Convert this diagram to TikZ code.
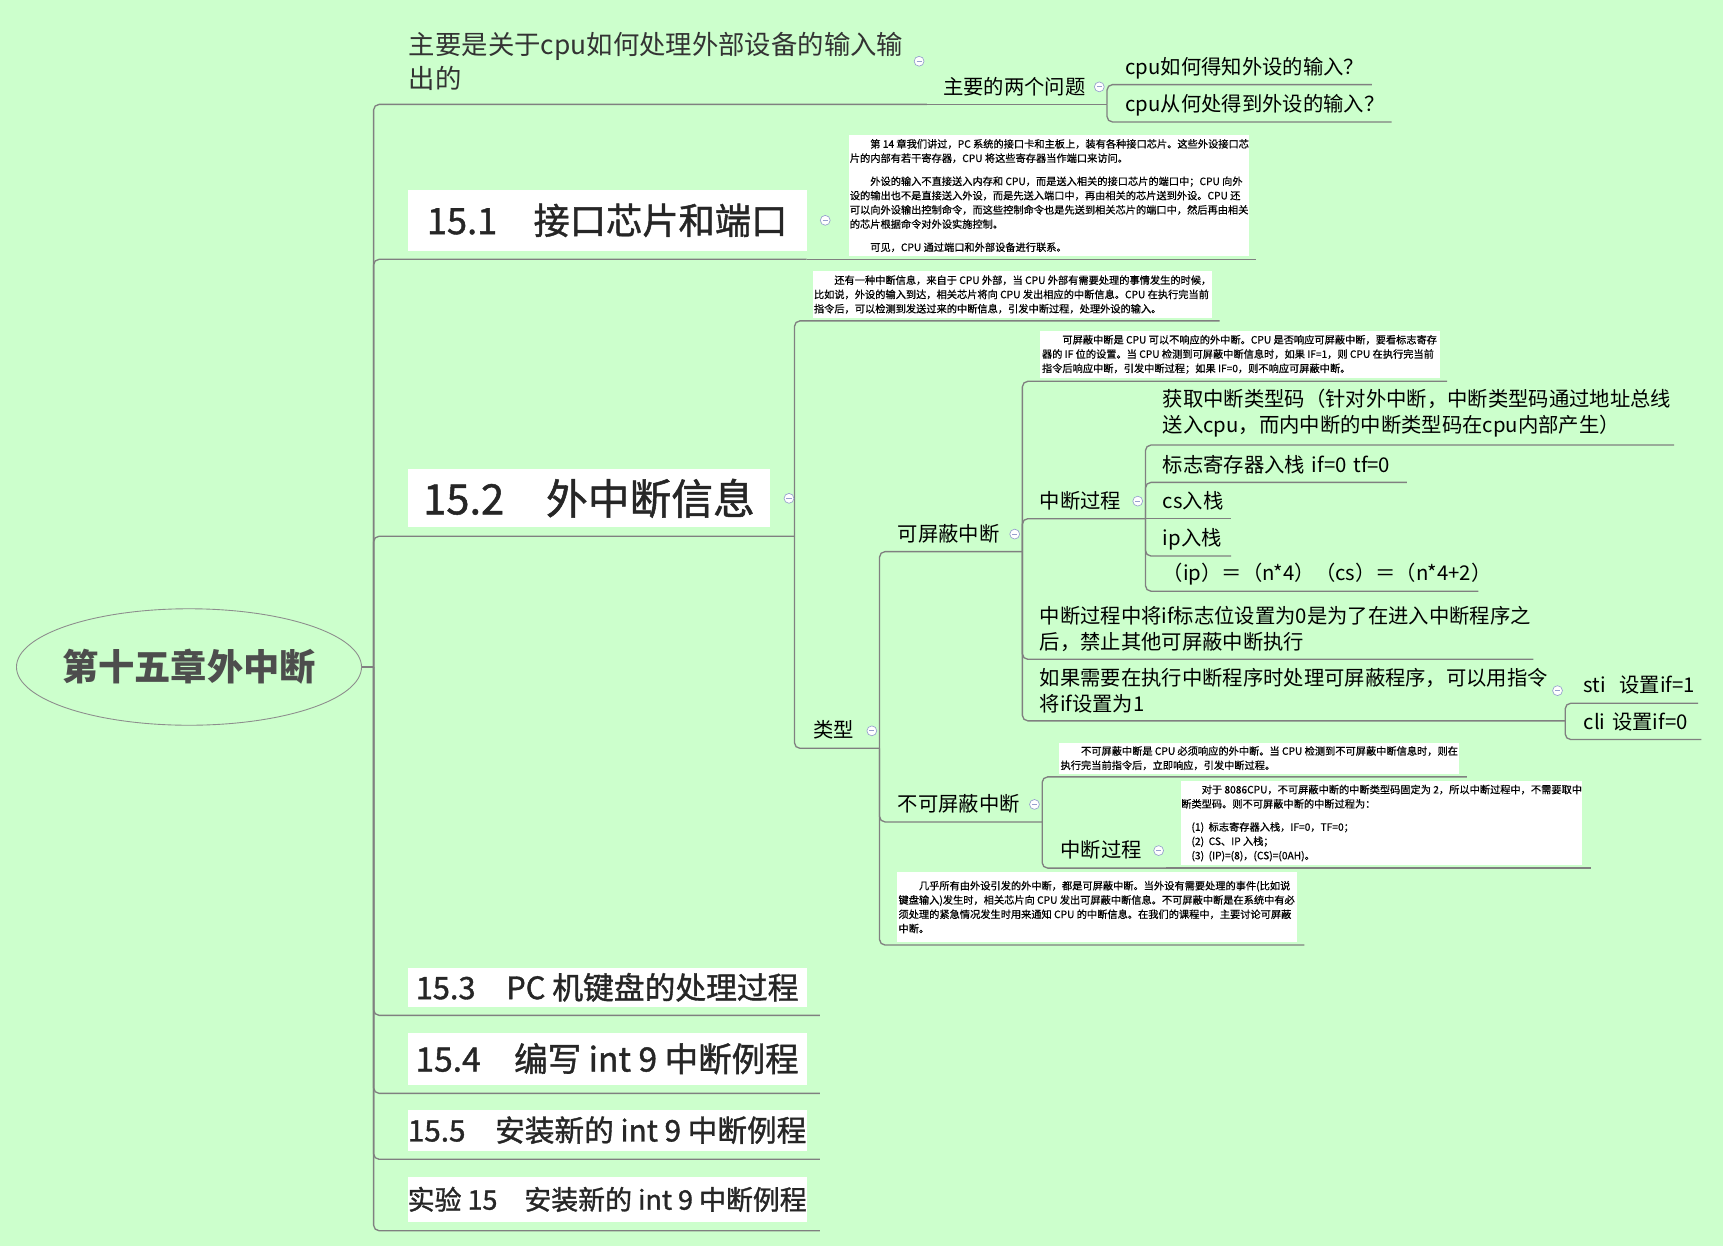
\documentclass[tikz,border=0pt]{standalone}
\usepackage{fontspec}
\newfontfamily\cjk{Noto Sans CJK SC}
\newfontfamily\cjkhead{Noto Sans CJK SC}[FakeBold=1.2]
\newfontfamily\cjkscan{Noto Sans CJK SC}[FakeBold=0.6]
\usetikzlibrary{shapes.geometric}

\definecolor{bg}{RGB}{204,255,204}
\definecolor{linegray}{RGB}{128,128,128}
\definecolor{rootgray}{RGB}{77,77,77}
\definecolor{foldc}{RGB}{150,160,205}

\tikzset{
	conn/.style={draw=linegray, line width=1.2pt, rounded corners=5pt},
	topic/.style={anchor=south west, inner xsep=0pt, inner ysep=6.7pt, text depth=2.5pt, align=left, text=black, font=\cjk\fontsize{18.5}{24}\selectfont},
	head/.style={anchor=south west, fill=white, inner sep=0pt, outer xsep=0pt, outer ysep=8pt, minimum width=363pt, text=black!85},
	shot/.style={anchor=south west, fill=white, inner sep=0pt, outer xsep=0pt, outer ysep=3pt, minimum width=364pt, align=left, text=black, font=\cjkscan\fontsize{9.3}{13}\selectfont},
	root/.style={ellipse, draw=linegray!90, line width=0.8pt, inner xsep=-12pt, minimum width=314pt, minimum height=106pt, text=rootgray, font=\cjk\bfseries\fontsize{33}{40}\selectfont},
	fold/.style={circle, draw=foldc, fill=white, line width=0.6pt, minimum size=9pt, inner sep=0pt,
		path picture={\draw[foldc, line width=0.8pt] ([xshift=2.2pt]path picture bounding box.west) -- ([xshift=-2.2pt]path picture bounding box.east);}}
}

\begin{document}
\begin{tikzpicture}[x=1pt, y=-1pt]
		\fill[bg] (0,0) rectangle (1568,1134);
		\useasboundingbox (0,0) rectangle (1568,1134);
		
		% centre
		\node[root] (root) at (172,607) {第十五章外中断};
		\coordinate (hub) at (340,607);
		
		% main branches
		\node[topic, text width=471pt, text depth={}, inner ysep=12.5pt, text=black!80, font=\cjk\fontsize{24}{31}\selectfont] (main1) at (372,95) {主要是关于cpu如何处理外部设备的输入输\\出的};
		\node[topic, text width=149pt] (two) at (858,95) {主要的两个问题};
		\node[topic, text width=224pt] (q1) at (1024,77) {cpu如何得知外设的输入？};
		\node[topic, text width=242pt] (q2) at (1024,111) {cpu从何处得到外设的输入？};
		
		\node[head, minimum height=55pt, font=\cjkhead\fontsize{33}{40}\selectfont] (s1) at (371,236) {15.1\quad 接口芯片和端口};
		\node[shot, minimum height=110pt] (x151) at (773,236) {　　第 14 章我们讲过，PC 系统的接口卡和主板上，装有各种接口芯片。这些外设接口芯\\片的内部有若干寄存器，CPU 将这些寄存器当作端口来访问。\\[8pt]　　外设的输入不直接送入内存和 CPU，而是送入相关的接口芯片的端口中；CPU 向外\\设的输出也不是直接送入外设，而是先送入端口中，再由相关的芯片送到外设。CPU 还\\可以向外设输出控制命令，而这些控制命令也是先送到相关芯片的端口中，然后再由相关\\的芯片根据命令对外设实施控制。\\[8pt]　　可见，CPU 通过端口和外部设备进行联系。};
		
		\node[head, minimum width=330pt, minimum height=53pt, font=\cjkhead\fontsize{38}{44}\selectfont] (s2) at (371,488) {15.2\quad 外中断信息};
		\coordinate (s2j) at ([xshift=22pt]s2.south east);
		\node[shot, minimum width=363pt, minimum height=42pt] (x152) at (740,292) {　　还有一种中断信息，来自于 CPU 外部，当 CPU 外部有需要处理的事情发生的时候，\\比如说，外设的输入到达，相关芯片将向 CPU 发出相应的中断信息。CPU 在执行完当前\\指令后，可以检测到发送过来的中断信息，引发中断过程，处理外设的输入。};
		\node[topic, text width=60pt] (type) at (740,681) {类型};
		
		% maskable
		\node[topic, text width=113pt] (kp) at (817,502) {可屏蔽中断};
		\node[shot, minimum height=43pt] (xkp) at (946,347) {　　可屏蔽中断是 CPU 可以不响应的外中断。CPU 是否响应可屏蔽中断，要看标志寄存\\器的 IF 位的设置。当 CPU 检测到可屏蔽中断信息时，如果 IF=1，则 CPU 在执行完当前\\指令后响应中断，引发中断过程；如果 IF=0，则不响应可屏蔽中断。};
		\node[topic, text width=96pt] (kproc) at (946,472) {中断过程};
		\node[topic, text width=465pt, text depth={}] (k1) at (1058,405) {获取中断类型码（针对外中断，中断类型码通过地址总线\\送入cpu，而内中断的中断类型码在cpu内部产生）};
		\node[topic, text width=222pt] (k2) at (1058,439) {标志寄存器入栈~if=0~tf=0};
		\node[topic, text width=62pt] (k3) at (1058,472) {cs入栈};
		\node[topic, text width=62pt] (k4) at (1058,506) {ip入栈};
		\node[topic, text width=287pt] (k5) at (1058,538) {（ip）＝（n*4）（cs）＝（n*4+2）};
		\node[topic, text width=449pt, text depth={}] (kwhy) at (946,600) {中断过程中将if标志位设置为0是为了在进入中断程序之\\后，禁止其他可屏蔽中断执行};
		\node[topic, text width=478pt, text depth={}] (kif) at (946,656) {如果需要在执行中断程序时处理可屏蔽程序，可以用指令\\将if设置为1};
		\node[topic, text width=104pt] (sti) at (1441,640) {sti~~设置if=1};
		\node[topic, text width=107pt] (cli) at (1441,673) {cli~设置if=0};
		
		% non maskable
		\node[topic, text width=131pt] (nk) at (817,748) {不可屏蔽中断};
		\node[shot, minimum height=28pt] (xnk) at (964,707) {　　不可屏蔽中断是 CPU 必须响应的外中断。当 CPU 检测到不可屏蔽中断信息时，则在\\执行完当前指令后，立即响应，引发中断过程。};
		\node[topic, text width=96pt] (nproc) at (965,790) {中断过程};
		\node[shot, minimum height=76pt] (xnp) at (1075,790) {　　对于 8086CPU，不可屏蔽中断的中断类型码固定为 2，所以中断过程中，不需要取中\\断类型码。则不可屏蔽中断的中断过程为：\\[8pt]　(1)~~标志寄存器入栈，IF=0，TF=0；\\　(2)~~CS、IP 入栈；\\　(3)~~(IP)=(8)，(CS)=(0AH)。};
		\node[shot, minimum height=63pt] (xtype) at (816,860) {　　几乎所有由外设引发的外中断，都是可屏蔽中断。当外设有需要处理的事件(比如说\\键盘输入)发生时，相关芯片向 CPU 发出可屏蔽中断信息。不可屏蔽中断是在系统中有必\\须处理的紧急情况发生时用来通知 CPU 的中断信息。在我们的课程中，主要讨论可屏蔽\\中断。};
		
		% later sections
		\node[head, minimum height=35pt, font=\cjkhead\fontsize{28}{34}\selectfont] (s3) at (371,924) {15.3\quad PC 机键盘的处理过程};
		\node[head, minimum height=47pt, font=\cjkhead\fontsize{30.5}{36}\selectfont] (s4) at (371,995) {15.4\quad 编写 int 9 中断例程};
		\node[head, minimum height=37pt, font=\cjkhead\fontsize{27}{32}\selectfont] (s5) at (371,1055) {15.5\quad 安装新的 int 9 中断例程};
		\node[head, minimum height=41pt, font=\cjkhead\fontsize{24.5}{30}\selectfont] (s6) at (371,1120) {实验 15\quad 安装新的 int 9 中断例程};
		
		% connectors
		\draw[conn] (root.east) -- (hub);
		\draw[conn] (hub) |- (main1.south east);
		\draw[conn] (main1.south east) -- (two.south east);
		\draw[conn] (two.south east) |- (q1.south east);
		\draw[conn] (two.south east) |- (q2.south east);
		\draw[conn] (hub) |- (s1.south east);
		\draw[conn] (s1.south east) -- ([xshift=6pt]x151.south east);
		\draw[conn] (hub) |- (s2j);
		\draw[conn] (s2j) |- ([xshift=7pt]x152.south east);
		\draw[conn] (s2j) |- (type.south east);
		\draw[conn] (type.south east) |- (kp.south east);
		\draw[conn] (type.south east) |- (nk.south east);
		\draw[conn] (type.south east) |- ([xshift=7pt]xtype.south east);
		\draw[conn] (kp.south east) |- ([xshift=7pt]xkp.south east);
		\draw[conn] (kp.south east) |- (kproc.south east);
		\draw[conn] (kp.south east) |- (kwhy.south east);
		\draw[conn] (kp.south east) |- (kif.south east);
		\foreach \c in {k1,k2,k4,k5}
			\draw[conn] (kproc.south east) |- (\c.south east);
		\draw[conn] (kproc.south east) -- (k3.south east);
		\draw[conn] (kif.south east) |- (sti.south east);
		\draw[conn] (kif.south east) |- (cli.south east);
		\draw[conn] (nk.south east) |- ([xshift=7pt]xnk.south east);
		\draw[conn] (nk.south east) |- (nproc.south east);
		\draw[conn] (nproc.south east) -- ([xshift=8pt]xnp.south east);
		\foreach \s in {s3,s4,s5,s6}
			\draw[conn] (hub) |- ([xshift=12pt]\s.south east);
		
		% fold marks
		\foreach \n in {main1,two,type,kp,kproc,kif,nk,nproc}
			\node[fold] (fold-\n) at ([xshift=-7pt]\n.east) {};
		\node[fold] (fold-s1) at ([xshift=17pt]s1.east) {};
		\node[fold] (fold-s2) at ([xshift=17pt]s2.east) {};
\end{tikzpicture}
\end{document}
